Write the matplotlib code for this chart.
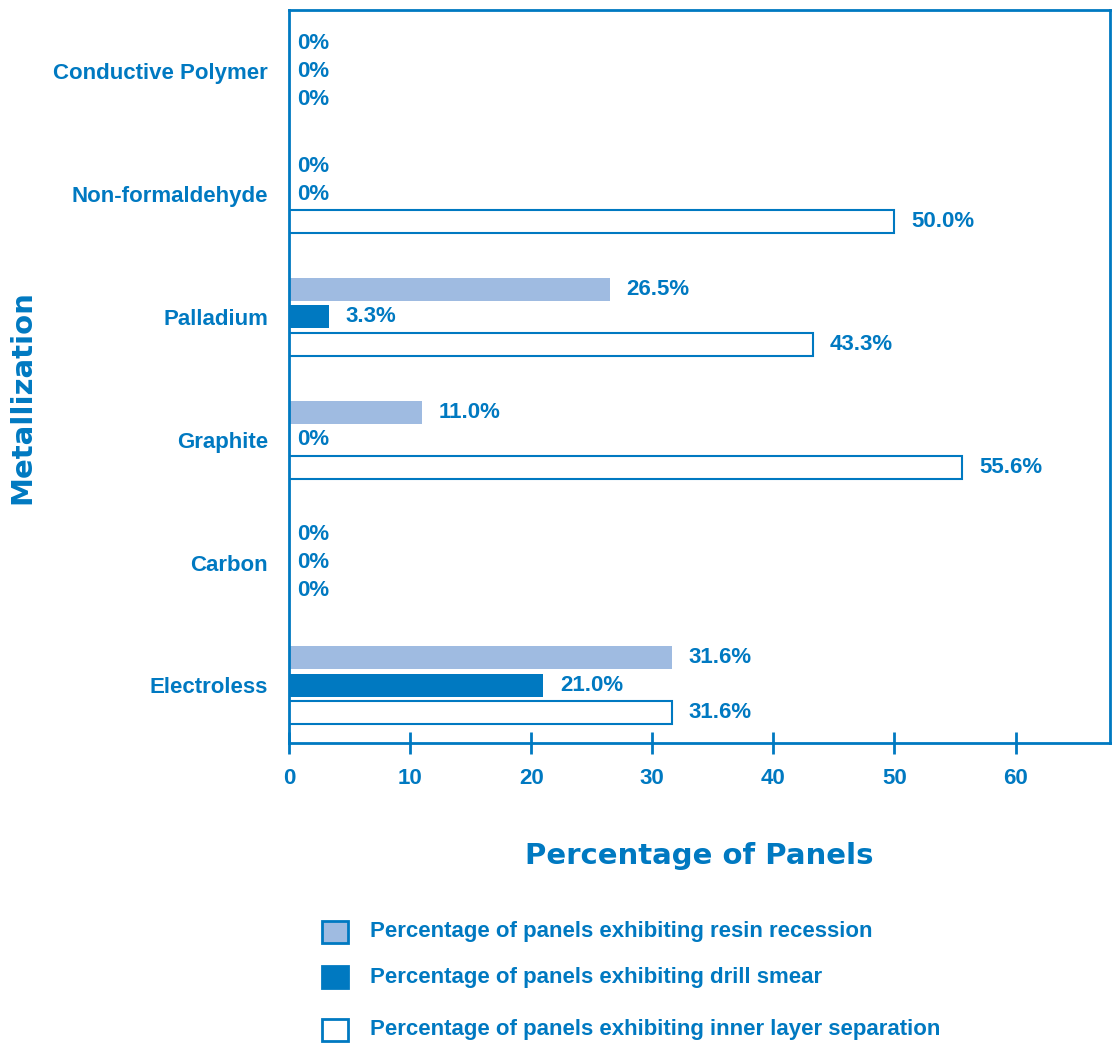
import matplotlib
matplotlib.use("Agg")
import matplotlib.pyplot as plt
from matplotlib.patches import Rectangle
import numpy as np

categories = ["Electroless", "Carbon", "Graphite", "Palladium", "Non-formaldehyde", "Conductive Polymer"]
resin_recession = [31.6, 0, 11.0, 26.5, 0, 0]
drill_smear = [21.0, 0, 0, 3.3, 0, 0]
inner_layer_sep = [31.6, 0, 55.6, 43.3, 50.0, 0]
x_ticks = [0, 10, 20, 30, 40, 50, 60]
legend_labels = ["Percentage of panels exhibiting resin recession",
                 "Percentage of panels exhibiting drill smear",
                 "Percentage of panels exhibiting inner layer separation"]

BLUE = "#0079C1"
LIGHT = "#9FBBE1"
NARROW = ["Liberation Sans Narrow", "Liberation Sans", "DejaVu Sans"]
FS = 16

fig = plt.figure(figsize=(11.16, 10.44), dpi=100)
ax = fig.add_axes([289/1116, 1-743/1044, (1110-289)/1116, (743-10)/1044])

y = np.arange(len(categories))
h = 0.187
off = 0.225

ax.barh(y + off, resin_recession, height=h, color=LIGHT, edgecolor="none")
ax.barh(y, drill_smear, height=h, color=BLUE, edgecolor="none")
ax.barh(y - off, inner_layer_sep, height=h, color="white", edgecolor=BLUE, linewidth=1.5)

for series, dy in ((resin_recession, off), (drill_smear, 0), (inner_layer_sep, -off)):
    for yi, v in zip(y, series):
        txt = "0%" if v == 0 else f"{v:.1f}%"
        ax.annotate(txt, (v, yi + dy), xytext=(6 if v == 0 else 12, 0),
                    textcoords="offset points", va="center", ha="left",
                    color=BLUE, fontsize=FS, fontweight="bold", family=NARROW)

ax.set_xlim(0, 67.8)
ax.set_ylim(-0.47, 5.5)
ax.set_xticks(x_ticks)
ax.set_xticklabels([str(t) for t in x_ticks], family=NARROW, fontsize=FS,
                   fontweight="bold", color=BLUE)
ax.tick_params(axis="x", direction="inout", length=16, width=2, color=BLUE, pad=10)
ax.set_yticks(y)
ax.set_yticklabels(categories, family=NARROW, fontsize=FS, fontweight="bold", color=BLUE)
ax.tick_params(axis="y", length=0, pad=15)
for s in ax.spines.values():
    s.set_color(BLUE)
    s.set_linewidth(2)

ax.set_xlabel("Percentage of Panels", family="DejaVu Sans", fontsize=21,
              fontweight="bold", color=BLUE, labelpad=38)
fig.text(22/1116, 1-397/1044, "Metallization", rotation=90, family="DejaVu Sans",
         fontsize=21, fontweight="bold", color=BLUE, ha="center", va="center")

# legend
leg_y = [932, 977, 1030]
faces = [LIGHT, BLUE, "white"]
for yy, fc, lab in zip(leg_y, faces, legend_labels):
    fig.add_artist(Rectangle((322/1116, 1-(yy+11)/1044), 26/1116, 22/1044,
                             transform=fig.transFigure, facecolor=fc,
                             edgecolor=BLUE, linewidth=2))
    fig.text(370/1116, 1-yy/1044, lab, family=NARROW, fontsize=FS,
             fontweight="bold", color=BLUE, ha="left", va="center")

fig.savefig("out.png", dpi=100)
